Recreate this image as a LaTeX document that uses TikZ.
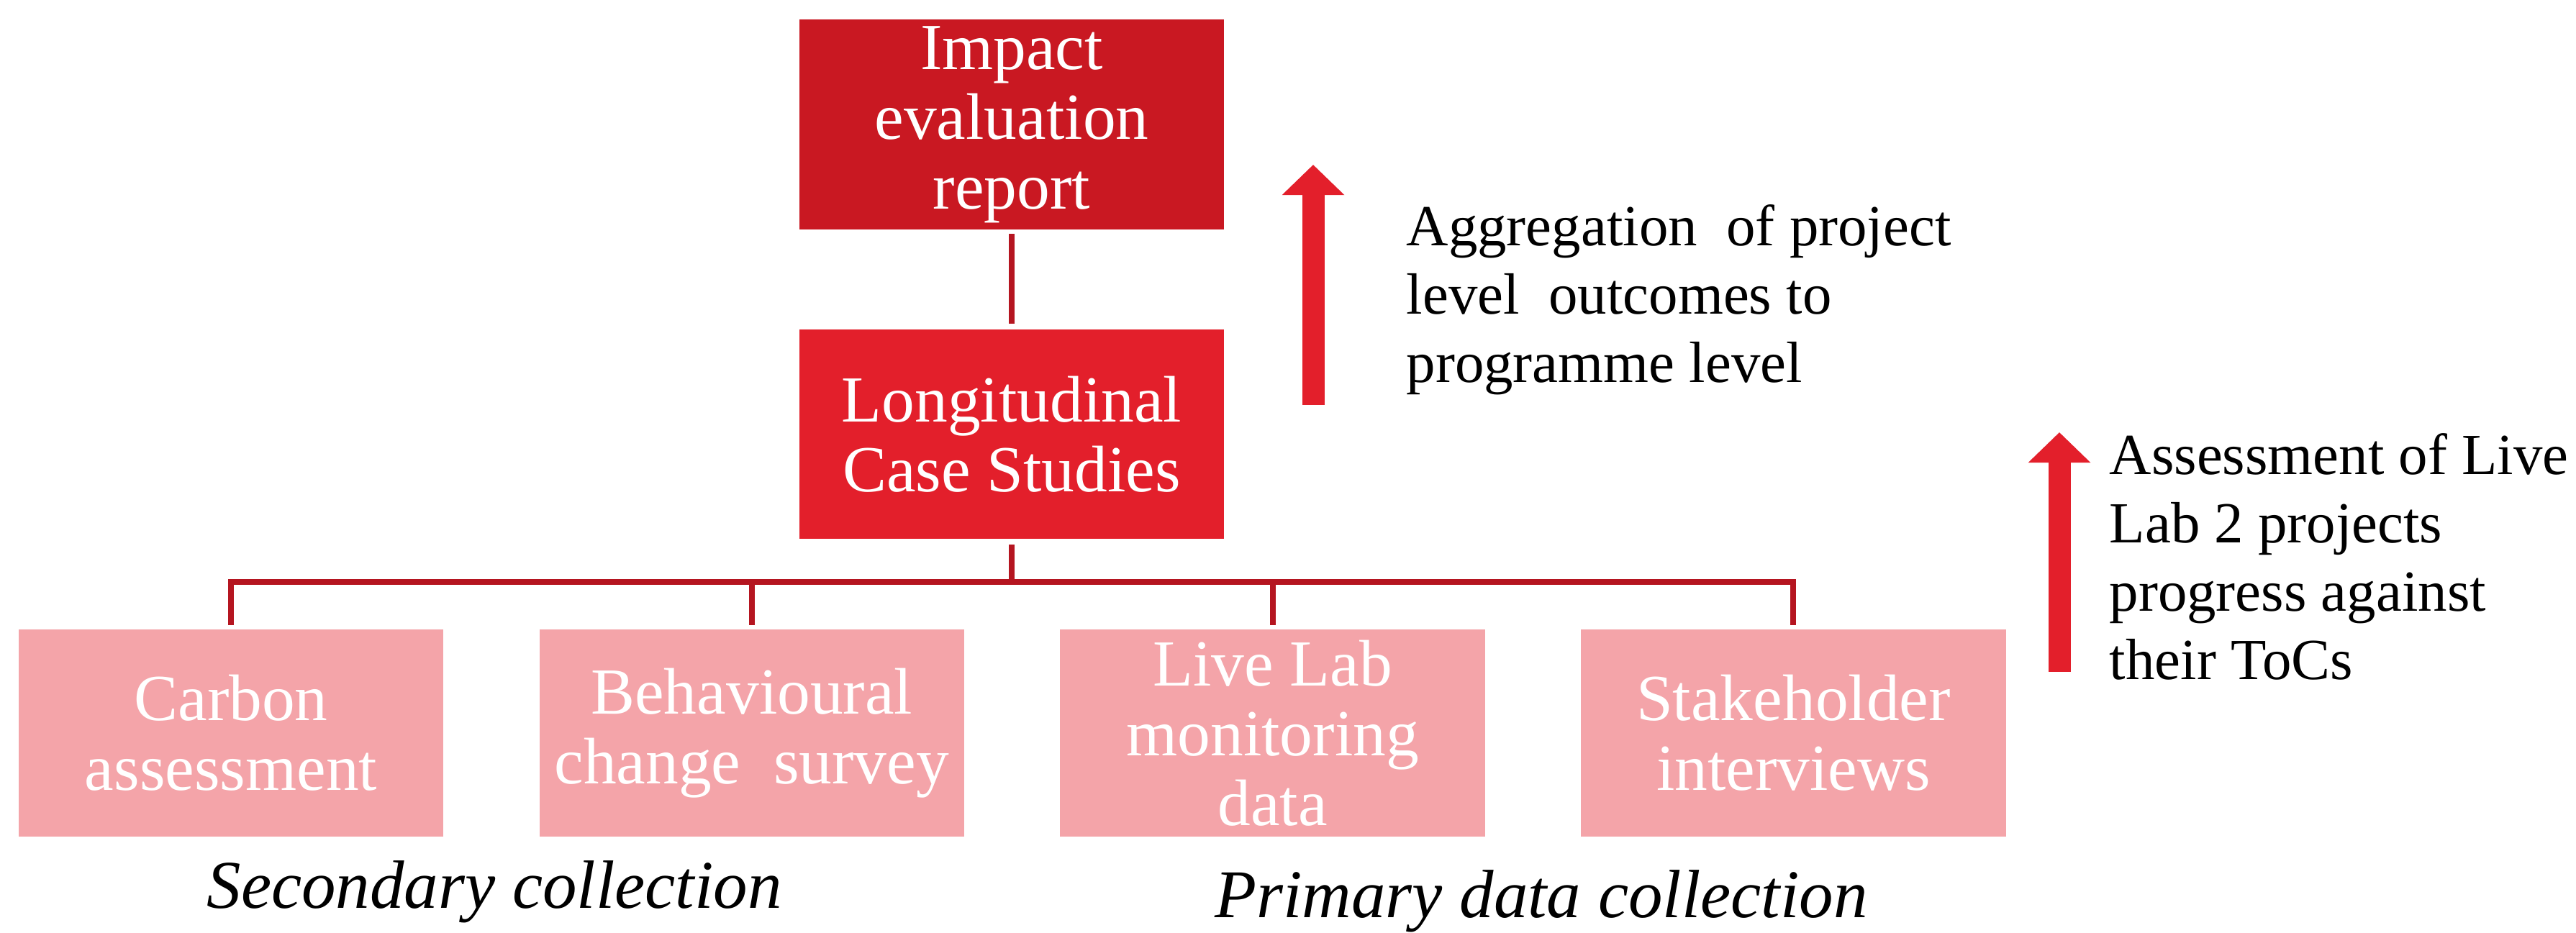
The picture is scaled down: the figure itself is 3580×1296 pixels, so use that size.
\documentclass[tikz,border=0pt]{standalone}
\usepackage{fontspec}
\setmainfont{Liberation Serif}
\usepackage{tikz}
\usetikzlibrary{arrows.meta,positioning}
\definecolor{ReportRed}{RGB}{201,24,34}
\definecolor{CaseRed}{RGB}{227,31,43}
\definecolor{MethodPink}{RGB}{244,164,169}
\definecolor{LinkRed}{RGB}{181,21,32}

\begin{document}
\begin{tikzpicture}[x=0.01cm, y=-0.01cm,
    box/.style={rectangle, inner sep=0pt, minimum width=5.9cm, minimum height=2.91cm,
      text=white, align=center, font=\fontsize{26}{27.6}\selectfont},
    method/.style={box, fill=MethodPink, minimum height=2.87cm},
    link/.style={LinkRed, line width=0.08cm, line join=miter},
    upflow/.style={CaseRed, line width=0.31cm, -{Triangle[width=0.84cm,length=0.42cm]}},
    note/.style={anchor=north west, inner sep=0pt, align=left, font=\fontsize{23}{27}\selectfont},
    caption/.style={anchor=base, inner sep=0pt, font=\fontsize{27}{30}\selectfont\itshape}]
  \useasboundingbox (0,0) rectangle (3580,1296);

  % report and case studies
  \node[box, fill=ReportRed] (report) at (1406,173) {Impact\\evaluation\\report};
  \node[box, fill=CaseRed, below=1.38cm of report] (cases) {Longitudinal\\Case Studies};

  % data collection methods
  \node[method] (carbon) at (321,1019) {Carbon\\assessment};
  \node[method, right=1.32cm of carbon] (survey) {Behavioural\\change~ survey};
  \node[method, right=1.32cm of survey] (monitoring) {Live Lab\\monitoring\\data};
  \node[method, right=1.32cm of monitoring] (interviews) {Stakeholder\\interviews};

  \node[caption] (secondary) at (687,1262) {Secondary collection};
  \node[caption] (primary) at (2142,1275) {Primary data collection};

  % tree lines
  \coordinate (bus) at (0,809);
  \draw[link, shorten <=0.06cm, shorten >=0.07cm] (report.south) -- (cases.north);
  \draw[link, shorten <=0.07cm] (cases.south) -- (cases.south |- bus);
  \draw[link, shorten <=0.06cm, shorten >=0.06cm] (carbon.north) -- (carbon.north |- bus)
    -- (interviews.north |- bus) -- (interviews.north);
  \foreach \m in {survey,monitoring}
    \draw[link, shorten >=0.06cm] (\m.north |- bus) -- (\m.north);

  % upward arrows with notes
  \coordinate (aggBase) at (1825,563);
  \coordinate (aggTip) at (1825,229);
  \draw[upflow] (aggBase) -- (aggTip);
  \node[note] (aggregation) at (1954,284) {Aggregation~ of project\\level~ outcomes to\\programme level};

  \coordinate (tocBase) at (2862,934);
  \coordinate (tocTip) at (2862,601);
  \draw[upflow] (tocBase) -- (tocTip);
  \node[note] (assessment) at (2931,602) {Assessment of Live\\Lab 2 projects\\progress against\\their ToCs};
\end{tikzpicture}
\end{document}
